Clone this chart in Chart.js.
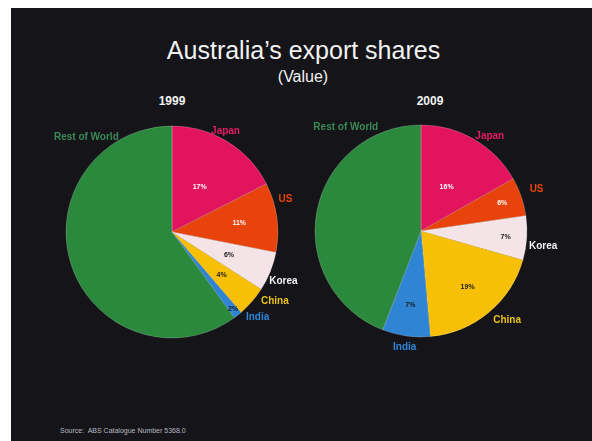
<!DOCTYPE html>
<html>
<head>
<meta charset="utf-8">
<script src="https://cdn.jsdelivr.net/npm/chart.js@4/dist/chart.umd.min.js"></script>
<style>
  html, body { margin: 0; padding: 0; background: #ffffff; }
  #page { position: relative; width: 592px; height: 441px; overflow: hidden; background: #ffffff; }
  #panel { position: absolute; left: 11px; top: 8px; width: 581px; height: 433px; background: #141419; }
  .txt { position: absolute; font-family: "Liberation Sans", Arial, sans-serif; color: #f2f2f2; white-space: nowrap; }
  #title { left: 0; width: 607px; top: 36px; text-align: center; font-size: 25px; }
  #sub { left: 0; width: 606px; top: 68px; text-align: center; font-size: 16px; }
  #y1 { left: 142px; width: 60px; top: 94px; text-align: center; font-size: 12px; font-weight: bold; }
  #y2 { left: 400px; width: 60px; top: 94px; text-align: center; font-size: 12px; font-weight: bold; }
  #src { left: 60px; top: 427px; font-size: 7px; color: #b8b8c0; }
  canvas.pie { position: absolute; }
</style>
</head>
<body>
<div id="page">
  <div id="panel"></div>
  <div class="txt" id="title">Australia’s export shares</div>
  <div class="txt" id="sub">(Value)</div>
  <div class="txt" id="y1">1999</div>
  <div class="txt" id="y2">2009</div>
  <div class="txt" id="src">Source:&nbsp; ABS Catalogue Number 5368.0</div>
  <canvas class="pie" id="c1" width="290" height="290" style="left:27px;top:87px;width:290px;height:290px"></canvas>
  <canvas class="pie" id="c2" width="290" height="290" style="left:276px;top:86px;width:290px;height:290px"></canvas>
</div>
<script>
// ---- data ----
const categories = ["Japan", "US", "Korea", "China", "India", "Rest of World"];
const shares1999 = [17.5, 10.6, 6.0, 4.6, 1.3, 60.0];
const shares2009 = [16.8, 5.9, 6.7, 19.2, 7.3, 44.1];
const pctLabels1999 = ["17%", "11%", "6%", "4%", "2%", ""];
const pctLabels2009 = ["16%", "6%", "7%", "19%", "7%", ""];

// ---- styles ----
const sliceColors = ["#e2145e", "#e8430c", "#f4e3e7", "#f7bf06", "#2f84d4", "#2a893c"];
const nameColors  = ["#e21c60", "#e8440e", "#f2f2f2", "#e8c216", "#2f86d6", "#3a8a58"];
const pctColors   = ["#ffffff", "#ffffff", "#1a1a1a", "#1a1a1a", "#1a1a1a", "#1a1a1a"];

const labelPlugin = {
  id: 'pieLabels',
  afterDatasetsDraw(chart, args, opts) {
    const ctx = chart.ctx;
    const meta = chart.getDatasetMeta(0);
    ctx.save();
    ctx.textAlign = 'center';
    ctx.textBaseline = 'middle';
    meta.data.forEach((arc, i) => {
      const p = arc.getProps(['x', 'y', 'startAngle', 'endAngle', 'outerRadius'], true);
      const mid = (p.startAngle + p.endAngle) / 2;
      // inner percent label
      if (opts.pct[i]) {
        const r = p.outerRadius * opts.pctR[i];
        ctx.font = 'bold 7px "Liberation Sans", Arial, sans-serif';
        ctx.fillStyle = pctColors[i];
        ctx.fillText(opts.pct[i], p.x + r * Math.cos(mid), p.y + r * Math.sin(mid));
      }
      // outer category name
      const a = (opts.nameAng[i] - 90) * Math.PI / 180;
      const d = opts.nameDist[i];
      ctx.font = 'bold 10px "Liberation Sans", Arial, sans-serif';
      ctx.fillStyle = nameColors[i];
      ctx.fillText(categories[i], p.x + d * Math.cos(a), p.y + d * Math.sin(a));
    });
    ctx.restore();
  }
};

function makePie(id, values, pct, pctR, nameAng, nameDist) {
  return new Chart(document.getElementById(id), {
    type: 'pie',
    data: {
      labels: categories,
      datasets: [{
        data: values,
        backgroundColor: sliceColors,
        borderWidth: 0.6,
        borderColor: 'rgba(255,255,255,0.35)'
      }]
    },
    options: {
      responsive: false,
      animation: false,
      radius: 106,
      layout: { padding: 0 },
      plugins: {
        legend: { display: false },
        tooltip: { enabled: false },
        pieLabels: { pct, pctR, nameAng, nameDist }
      }
    },
    plugins: [labelPlugin]
  });
}

makePie('c1', shares1999, pctLabels1999,
  [0.50, 0.64, 0.58, 0.62, 0.93, 0],
  [28, 74, 114, 124, 135, 318],
  [114, 118, 122, 124, 121, 128]);

makePie('c2', shares2009, pctLabels2009,
  [0.48, 0.81, 0.80, 0.69, 0.71, 0],
  [36, 70, 97, 136, 188, 324],
  [117, 123, 123, 124, 117, 128]);
</script>
</body>
</html>
